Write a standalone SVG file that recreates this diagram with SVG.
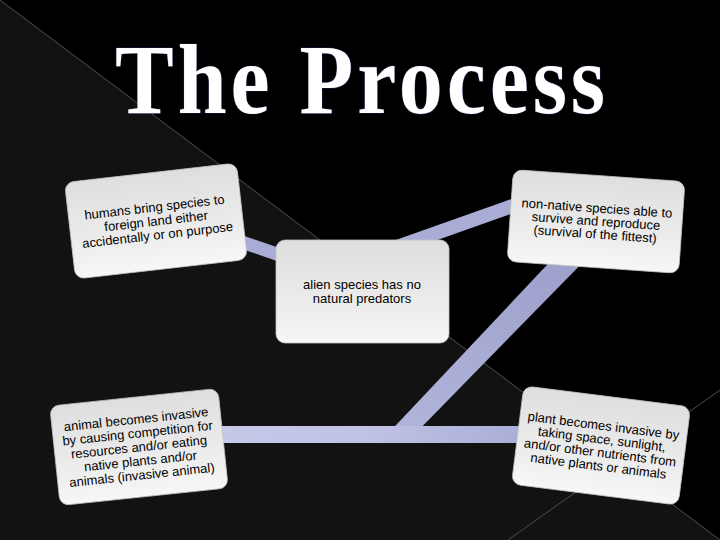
<svg xmlns="http://www.w3.org/2000/svg" width="720" height="540" viewBox="0 0 720 540">
<defs>
<linearGradient id="boxFill" x1="0" y1="0" x2="0" y2="1">
<stop offset="0" stop-color="#dedede"/>
<stop offset="0.7" stop-color="#eeeeee"/>
<stop offset="1" stop-color="#f7f7f7"/>
</linearGradient>
<linearGradient id="hband" x1="0" y1="0" x2="1" y2="0">
<stop offset="0" stop-color="#c6c9e8"/>
<stop offset="0.5" stop-color="#bfc2e4"/>
<stop offset="1" stop-color="#a9add6"/>
</linearGradient>
<linearGradient id="dband" x1="0" y1="1" x2="1" y2="0">
<stop offset="0" stop-color="#b3b6dc"/>
<stop offset="1" stop-color="#9a9ec9"/>
</linearGradient>
<style>
.box{fill:url(#boxFill);stroke:#c4c4c4;stroke-width:0.8}
.t{font-family:"Liberation Sans",Arial,sans-serif;font-size:13px;fill:#000;text-anchor:middle}
.title{font-family:"Liberation Serif","Times New Roman",serif;font-weight:bold;font-size:100px;letter-spacing:4.5px;fill:#fff;stroke:#1a2148;stroke-width:1.2;paint-order:stroke}
.edge{fill:none;stroke:#a9add6}
</style>
</defs>
<rect x="0" y="0" width="720" height="540" fill="#000"/>
<polygon points="0,0 0,540 720,540" fill="#121212"/>
<line x1="0" y1="0" x2="720" y2="540" stroke="#4e4e4e" stroke-width="1"/>
<line x1="720" y1="390" x2="508" y2="540" stroke="#4e4e4e" stroke-width="1"/>
<text class="title" transform="translate(115,113) scale(0.88,1)" x="0" y="0">The Process</text>
<g id="connectors">
<line class="edge" x1="230" y1="238" x2="300" y2="262" stroke="#b3b7de" stroke-width="13"/>
<line class="edge" x1="360" y1="260" x2="535" y2="198" stroke="#a6aad3" stroke-width="14"/>
<polygon points="382,440 561,250 595,250 409,440" fill="url(#dband)"/>
<rect x="210" y="426" width="320" height="17" fill="url(#hband)"/>
</g>
<g id="node-humans" transform="translate(156,221) rotate(-6.5)">
<rect class="box" x="-86.5" y="-48.5" width="173" height="97" rx="9"/>
<text class="t" x="0" y="-9.5">humans bring species to</text>
<text class="t" x="0" y="4.5">foreign land either</text>
<text class="t" x="0" y="18.5">accidentally or on purpose</text>
</g>
<g id="node-nonnative" transform="translate(596,221.5) rotate(4)">
<rect class="box" x="-86" y="-46" width="172" height="92" rx="9"/>
<text class="t" x="0" y="-9">non-native species able to</text>
<text class="t" x="0" y="4">survive and reproduce</text>
<text class="t" x="0" y="17">(survival of the fittest)</text>
</g>
<g id="node-alien">
<rect class="box" x="276" y="240" width="173" height="103" rx="9"/>
<text class="t" x="362" y="289">alien species has no</text>
<text class="t" x="362" y="303">natural predators</text>
</g>
<g id="node-animal" transform="translate(139,447) rotate(-6)">
<rect class="box" x="-84.5" y="-50" width="169" height="100" rx="9"/>
<text class="t" x="0" y="-23.5">animal becomes invasive</text>
<text class="t" x="0" y="-9.5">by causing competition for</text>
<text class="t" x="0" y="4.5">resources and/or eating</text>
<text class="t" x="0" y="18.5">native plants and/or</text>
<text class="t" x="0" y="32.5">animals (invasive animal)</text>
</g>
<g id="node-plant" transform="translate(601,445.5) rotate(7.2)">
<rect class="box" x="-84" y="-49.5" width="168" height="99" rx="9"/>
<text class="t" x="0" y="-15.5">plant becomes invasive by</text>
<text class="t" x="0" y="-2">taking space, sunlight,</text>
<text class="t" x="0" y="11.5">and/or other nutrients from</text>
<text class="t" x="0" y="25">native plants or animals</text>
</g>
</svg>
